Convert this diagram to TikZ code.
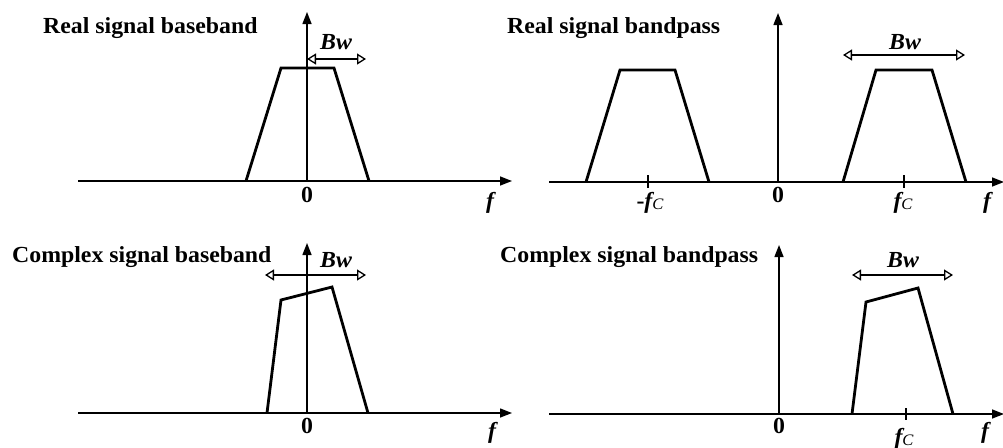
\documentclass[tikz,border=0pt]{standalone}
\usepackage{fontspec}
\setmainfont{Liberation Serif}
\usetikzlibrary{arrows.meta}
\newcommand{\fc}{{\bfseries\itshape f}\raisebox{-1pt}{\mdseries\itshape\fontsize{16}{16}\selectfont C}}
\begin{document}
\begin{tikzpicture}[x=1pt,y=-1pt,
  axis/.style={line width=1.4pt, -{Triangle[length=12pt,width=9pt]}},
  spec/.style={line width=2.8pt, line join=miter},
  bwarrow/.style={line width=1.4pt, {Triangle[open,length=9pt,width=11pt,line width=1.3pt]}-{Triangle[open,length=9pt,width=11pt,line width=1.3pt]}},
  tickm/.style={line width=2pt},
  lbl/.style={font=\fontsize{23}{27}\selectfont\bfseries, inner sep=0pt, xscale=1.035, anchor=base},
  ttl/.style={lbl, anchor=base west},
]
\useasboundingbox (0,0) rectangle (1003,447);

% ---------- Panel 1: Real signal baseband ----------
\coordinate (p1l) at (78,181);
\coordinate (p1r) at (512,181);
\coordinate (p1o) at (307,181);
\coordinate (p1t) at (307,12);
\draw[axis] (p1l) -- (p1r);
\draw[axis] (p1o) -- (p1t);
\draw[spec] (246,181) -- (281,68) -- (334,68) -- (369,181);
\coordinate (b1l) at (307,59);
\coordinate (b1r) at (366,59);
\draw[bwarrow] (b1l) -- (b1r);
\node[lbl] (bw1) at (336,49) {\itshape Bw};
\node[lbl] (z1) at (307,202) {0};
\node[lbl] (f1) at (490,208) {\itshape f};
\node[ttl] (t1) at (43,33) {Real signal baseband};

% ---------- Panel 2: Real signal bandpass ----------
\coordinate (p2l) at (549,182);
\coordinate (p2r) at (1004,182);
\coordinate (p2o) at (778,182);
\coordinate (p2t) at (778,13);
\draw[axis] (p2l) -- (p2r);
\draw[axis] (p2o) -- (p2t);
\draw[spec] (586,182) -- (620,70) -- (675,70) -- (709,182);
\draw[spec] (843,182) -- (876,70) -- (932,70) -- (966,182);
\draw[tickm] (648,175) -- (648,188);
\draw[tickm] (904,175) -- (904,188);
\coordinate (b2l) at (843,55);
\coordinate (b2r) at (965,55);
\draw[bwarrow] (b2l) -- (b2r);
\node[lbl] (bw2) at (905,49) {\itshape Bw};
\node[lbl] (z2) at (778,202) {0};
\node[lbl] (fc2a) at (650,208) {-\fc};
\node[lbl] (fc2b) at (903,208) {\fc};
\node[lbl] (f2) at (987,208) {\itshape f};
\node[ttl] (t2) at (507,33) {Real signal bandpass};

% ---------- Panel 3: Complex signal baseband ----------
\coordinate (p3l) at (78,413);
\coordinate (p3r) at (512,413);
\coordinate (p3o) at (307,413);
\coordinate (p3t) at (307,243);
\draw[axis] (p3l) -- (p3r);
\draw[axis] (p3o) -- (p3t);
\draw[spec] (267,413) -- (281,300) -- (332,287) -- (368,413);
\coordinate (b3l) at (265,275);
\coordinate (b3r) at (366,275);
\draw[bwarrow] (b3l) -- (b3r);
\node[lbl] (bw3) at (336,267) {\itshape Bw};
\node[lbl] (z3) at (307,433) {0};
\node[lbl] (f3) at (492,438) {\itshape f};
\node[ttl] (t3) at (12,262) {Complex signal baseband};

% ---------- Panel 4: Complex signal bandpass ----------
\coordinate (p4l) at (549,414);
\coordinate (p4r) at (1004,414);
\coordinate (p4o) at (779,414);
\coordinate (p4t) at (779,245);
\draw[axis] (p4l) -- (p4r);
\draw[axis] (p4o) -- (p4t);
\draw[spec] (852,414) -- (866,302) -- (918,288) -- (953,414);
\draw[tickm] (906,408) -- (906,420);
\coordinate (b4l) at (852,275);
\coordinate (b4r) at (953,275);
\draw[bwarrow] (b4l) -- (b4r);
\node[lbl] (bw4) at (903,267) {\itshape Bw};
\node[lbl] (z4) at (779,433) {0};
\node[lbl] (fc4) at (904,444) {\fc};
\node[lbl] (f4) at (985,438) {\itshape f};
\node[ttl] (t4) at (500,262) {Complex signal bandpass};
\end{tikzpicture}
\end{document}
